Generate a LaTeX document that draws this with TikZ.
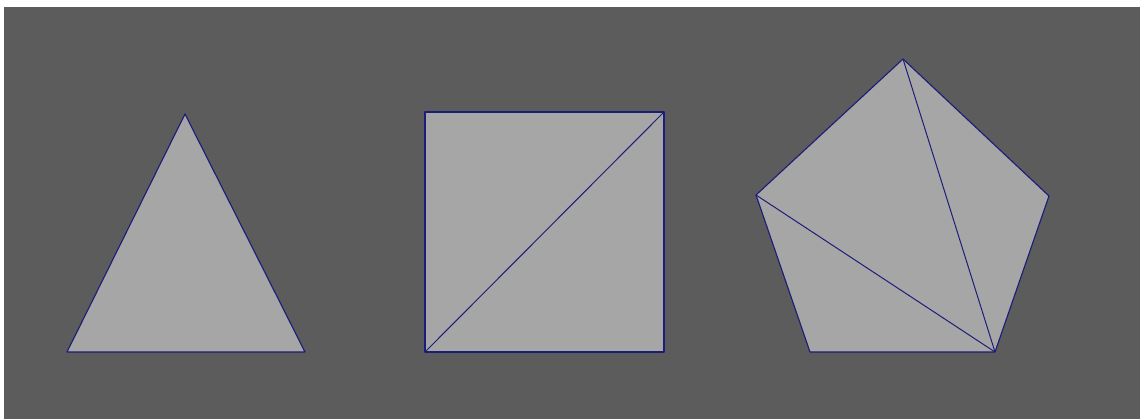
\documentclass[tikz,border=0pt]{standalone}
\usepackage{xcolor}
\usepackage{tikz}
\usetikzlibrary{positioning, calc}

\definecolor{bggray}{HTML}{5C5C5C}
\definecolor{facegray}{HTML}{A6A6A6}
\definecolor{edgeblue}{HTML}{1C1C7A}

\begin{document}
\begin{tikzpicture}[x=0.025cm, y=-0.025cm,
    face/.style={fill=facegray, draw=edgeblue, line width=0.8pt, line join=round},
    diag/.style={draw=edgeblue, line width=0.7pt}]
  % canvas: 1140 x 419 px, white strip on top and left
  \useasboundingbox (0,0) rectangle (1140,419);
  \fill[white] (0,0) rectangle (1140,419);
  \fill[bggray] (4,7) rectangle (1140,419);
  % triangle
  \coordinate (t1) at (185,114);
  \coordinate (t2) at (305,352);
  \coordinate (t3) at (67,352);
  \draw[face] (t1) -- (t2) -- (t3) -- cycle;
  % square, split by one diagonal
  \coordinate (s1) at (425,112);
  \coordinate (s2) at (664,112);
  \coordinate (s3) at (664,352);
  \coordinate (s4) at (425,352);
  \draw[face] (s1) -- (s2) -- (s3) -- (s4) -- cycle;
  \draw[diag] (s4) -- (s2);
  % pentagon, fan of two diagonals from bottom right corner
  \coordinate (p1) at (903,59);
  \coordinate (p2) at (1049,196);
  \coordinate (p3) at (995,352);
  \coordinate (p4) at (810,352);
  \coordinate (p5) at (756,195);
  \draw[face] (p1) -- (p2) -- (p3) -- (p4) -- (p5) -- cycle;
  \draw[diag] (p3) -- (p1);
  \draw[diag] (p3) -- (p5);
\end{tikzpicture}
\end{document}
